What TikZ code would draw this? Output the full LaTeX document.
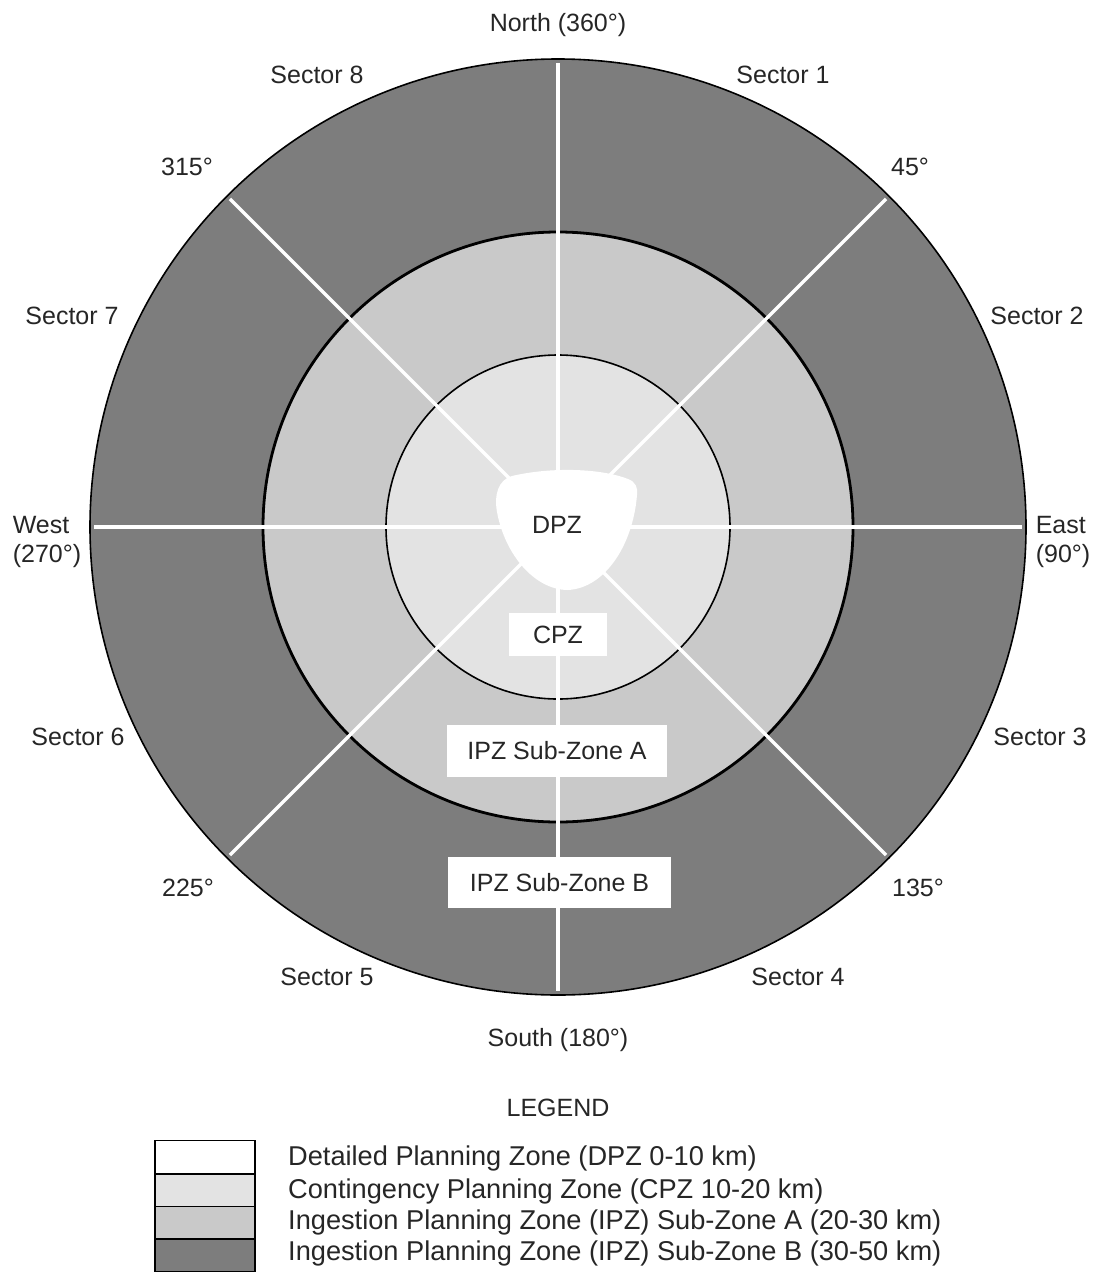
\documentclass[tikz,border=0pt]{standalone}
\usepackage{fontspec}
\setmainfont{Liberation Sans}
\definecolor{cpzc}{gray}{0.89}
\definecolor{ipzac}{gray}{0.79}
\definecolor{ipzbc}{gray}{0.49}
\begin{document}
\begin{tikzpicture}[x=1pt,y=-1pt,
  lbl/.style={font=\fontsize{25}{29}\selectfont, inner sep=0pt, text=black!85},
  zonebox/.style={fill=white, inner sep=0pt, font=\fontsize{25}{29}\selectfont, text=black!85},
  divider/.style={white, line width=3.5pt},
  legbox/.style={draw=black, line width=1.8pt, minimum width=100pt, minimum height=33pt, inner sep=0pt},
  legtxt/.style={font=\fontsize{27.2}{30}\selectfont, anchor=west, inner sep=0pt, text=black!85}]
\useasboundingbox (0,0) rectangle (1098,1272);
\fill[white] (0,0) rectangle (1098,1272);
\coordinate (c) at (558,527);
% rings
\fill[ipzbc] (c) circle[radius=468];
\fill[ipzac] (c) circle[radius=295];
\fill[cpzc] (c) circle[radius=172];
\draw[line width=2.8pt] (c) circle[radius=295];
\draw[line width=1.6pt] (c) circle[radius=172];
% sector dividers
\foreach \a in {0,45,...,315} \draw[divider] (c) -- ++(\a:464);
\draw[line width=1.6pt] (c) circle[radius=468];
% DPZ
\fill[white] (512,476) .. controls (550,467) and (600,468) .. (628,479)
  .. controls (636,482) and (638,488) .. (637,495)
  .. controls (633,545) and (605,588) .. (568,590)
  .. controls (535,590) and (505,555) .. (497,512)
  .. controls (494,495) and (498,480) .. (512,476) -- cycle;
\node[lbl] (dpz) at (557,525) {DPZ};
% zone boxes
\node[zonebox, minimum width=98pt, minimum height=43pt] (cpz) at (558,634.5) {CPZ};
\node[zonebox, minimum width=220pt, minimum height=52pt] (ipza) at (557,751) {IPZ Sub-Zone A};
\node[zonebox, minimum width=223pt, minimum height=51pt] (ipzb) at (559.5,882.5) {IPZ Sub-Zone B};
% compass labels
\node[lbl] (north) at (558,25) {North (360°)};
\node[lbl] (south) at (558,1040) {South (180°)};
\node[lbl, align=left] (west) at (47,542) {West\\(270°)};
\node[lbl, align=left] (east) at (1063,542) {East\\(90°)};
\node[lbl] (d315) at (187,167) {315°};
\node[lbl] (d45) at (910,167) {45°};
\node[lbl] (d225) at (188,888) {225°};
\node[lbl] (d135) at (918,888) {135°};
\node[lbl] (s8) at (317,75) {Sector 8};
\node[lbl] (s1) at (783,75) {Sector 1};
\node[lbl] (s7) at (72,316) {Sector 7};
\node[lbl] (s2) at (1037,316) {Sector 2};
\node[lbl] (s6) at (78,737) {Sector 6};
\node[lbl] (s3) at (1040,737) {Sector 3};
\node[lbl] (s5) at (327,977) {Sector 5};
\node[lbl] (s4) at (798,977) {Sector 4};
% legend
\node[lbl] (legend) at (558,1108) {LEGEND};
\node[legbox, fill=white] (l1) at (205,1157) {};
\node[legbox, fill=cpzc] (l2) at (205,1190.5) {};
\node[legbox, fill=ipzac] (l3) at (205,1223) {};
\node[legbox, fill=ipzbc] (l4) at (205,1255.5) {};
\node[legtxt] (t1) at (288,1158) {Detailed Planning Zone (DPZ 0-10 km)};
\node[legtxt] (t2) at (288,1191) {Contingency Planning Zone (CPZ 10-20 km)};
\node[legtxt] (t3) at (288,1222) {Ingestion Planning Zone (IPZ) Sub-Zone A (20-30 km)};
\node[legtxt] (t4) at (288,1253) {Ingestion Planning Zone (IPZ) Sub-Zone B (30-50 km)};
\end{tikzpicture}
\end{document}
